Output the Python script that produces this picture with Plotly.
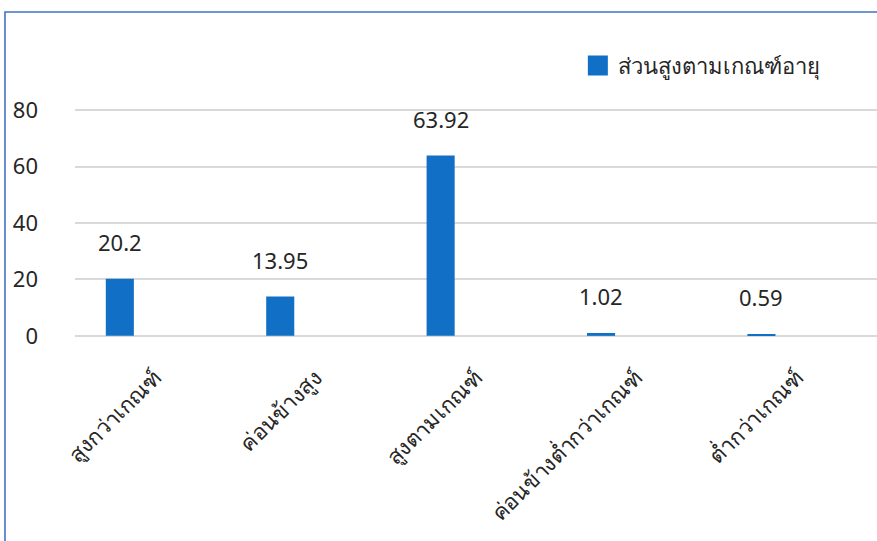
import plotly.graph_objects as go

categories = ["สูงกว่าเกณฑ์", "ค่อนข้างสูง", "สูงตามเกณฑ์", "ค่อนข้างต่ำกว่าเกณฑ์", "ต่ำกว่าเกณฑ์"]
values = [20.2, 13.95, 63.92, 1.02, 0.59]
value_labels = ["20.2", "13.95", "63.92", "1.02", "0.59"]
series_name = "ส่วนสูงตามเกณฑ์อายุ"
y_ticks = [0, 20, 40, 60, 80]

FONT = "Noto Sans, Tahoma, sans-serif"
BAR_COLOR = "#1170C6"
TEXT_COLOR = "#262626"

fig = go.Figure()
fig.add_trace(go.Bar(
    x=categories, y=values, name=series_name,
    marker=dict(color=BAR_COLOR, line=dict(width=0)),
    width=0.175, offset=-0.308,
    showlegend=False,
))
# legend entry (larger square swatch, like the original)
fig.add_trace(go.Scatter(
    x=[categories[0]], y=[None], name=series_name, mode="markers",
    marker=dict(symbol="square", size=16, color=BAR_COLOR,
                line=dict(color=BAR_COLOR, width=4)),
    showlegend=True, hoverinfo="skip",
))

for c, v, t in zip(categories, values, value_labels):
    fig.add_annotation(x=c, y=v, text=t, showarrow=False, xanchor="center",
                       yanchor="middle", xshift=-35.5, yshift=37,
                       font=dict(family=FONT, size=22, color=TEXT_COLOR))

# outer chart border (top and left edges visible)
fig.add_shape(type="rect", xref="paper", yref="paper",
              x0=-0.0873, x1=1.05, y0=-1.0, y1=1.4254,
              line=dict(color="#4472C4", width=1.6), fillcolor="rgba(0,0,0,0)",
              layer="above")

fig.update_layout(
    width=877, height=541,
    margin=dict(l=75, r=0, t=109, b=204),
    paper_bgcolor="white", plot_bgcolor="white",
    font=dict(family=FONT, size=22, color=TEXT_COLOR),
    showlegend=True,
    legend=dict(x=0.627, y=1.19, xanchor="left", yanchor="middle",
                itemsizing="trace",
                font=dict(size=22, color=TEXT_COLOR), bgcolor="rgba(0,0,0,0)"),
    xaxis=dict(type="category", tickangle=-45, showgrid=False, zeroline=False,
               showline=False, ticks="", tickfont=dict(size=22), range=[-0.5, 4.5],
               ticklabelstandoff=22),
    yaxis=dict(range=[-0.4, 80.4], tickvals=y_ticks, showgrid=True, gridcolor="#D9D9D9",
               gridwidth=1.5, zeroline=False, showline=False, ticks="",
               ticklabelstandoff=36, tickfont=dict(size=22)),
)

fig.write_html("out.html", config={"displayModeBar": False},
               post_script="document.body.style.margin='0';")
